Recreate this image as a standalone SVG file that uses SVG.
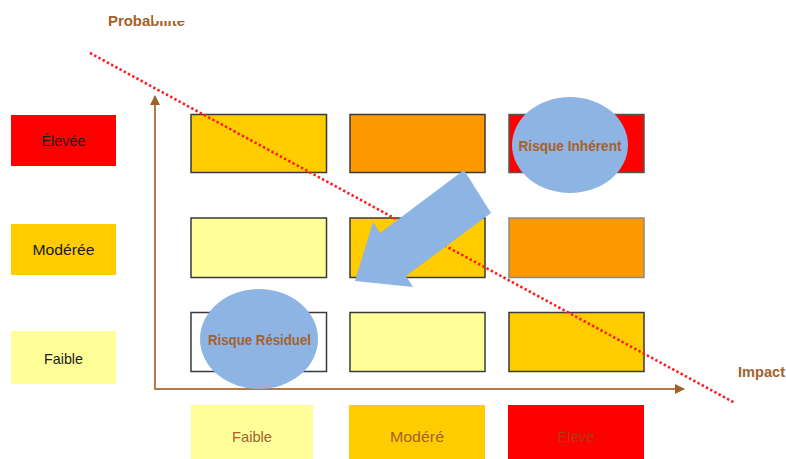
<svg xmlns="http://www.w3.org/2000/svg" width="786" height="459" viewBox="0 0 786 459">
  <style>
    .legend { stroke: none; }
    .cell { stroke: #3a3a3a; stroke-width: 1.5; }
    .bubble { fill: #8EB4E3; }
    .lbl { font-family: "Liberation Sans", Arial, sans-serif; font-size: 15px; text-anchor: middle; dominant-baseline: central; }
    .dark { fill: #1a1a1a; }
    .brown { fill: #A5612B; }
    .bold { font-weight: bold; font-size: 14px; }
    .axis { stroke: #B27A4B; stroke-width: 2; fill: none; }
    .red-line { stroke: #FF1A1A; stroke-width: 2.6; stroke-dasharray: 2.4 2.4; fill: none; }
  </style>
  <defs>
    <marker id="axisHead" viewBox="0 0 10 10" refX="9" refY="5" markerWidth="5" markerHeight="5" orient="auto" markerUnits="strokeWidth">
      <path d="M0,0 L10,5 L0,10 Z" fill="#A0622D"/>
    </marker>
    <clipPath id="titleClip">
      <rect x="100" y="8" width="53" height="25"/>
      <rect x="153" y="21" width="40" height="12"/>
    </clipPath>
  </defs>

  <rect width="786" height="459" fill="#ffffff"/>

  <!-- probability scale on the left -->
  <g id="prob-high">
    <rect class="legend" x="11" y="115" width="105" height="51" fill="#FF0000"/>
    <text class="lbl dark" x="63.5" y="140" textLength="44" lengthAdjust="spacingAndGlyphs">Élevée</text>
  </g>
  <g id="prob-medium">
    <rect class="legend" x="11" y="224" width="105" height="51" fill="#FFCC00"/>
    <text class="lbl dark" x="63.5" y="249" textLength="62" lengthAdjust="spacingAndGlyphs">Modérée</text>
  </g>
  <g id="prob-low">
    <rect class="legend" x="11" y="331" width="105" height="53" fill="#FFFF99"/>
    <text class="lbl dark" x="63.5" y="358" textLength="39" lengthAdjust="spacingAndGlyphs">Faible</text>
  </g>

  <!-- impact scale at the bottom -->
  <g id="impact-low">
    <rect class="legend" x="191" y="405" width="122" height="54" fill="#FFFF99"/>
    <text class="lbl brown" x="252" y="436" textLength="40" lengthAdjust="spacingAndGlyphs">Faible</text>
  </g>
  <g id="impact-medium">
    <rect class="legend" x="349" y="405" width="136" height="54" fill="#FFCC00"/>
    <text class="lbl brown" x="417" y="436" textLength="54" lengthAdjust="spacingAndGlyphs">Modéré</text>
  </g>
  <g id="impact-high">
    <rect class="legend" x="508" y="405" width="136" height="54" fill="#FF0000"/>
    <text class="lbl" x="576" y="436" fill="#B03A12" textLength="37" lengthAdjust="spacingAndGlyphs">Élevé</text>
  </g>

  <!-- risk matrix cells -->
  <g id="cell-r1c1"><rect class="cell" x="191" y="114.5" width="135.5" height="58" fill="#FFCC00"/></g>
  <g id="cell-r1c2"><rect class="cell" x="350" y="114.5" width="135" height="58" fill="#FF9900"/></g>
  <g id="cell-r1c3"><rect class="cell" x="509" y="114.5" width="135" height="58" fill="#FF0000" style="stroke:#555"/></g>
  <g id="cell-r2c1"><rect class="cell" x="191" y="218" width="135.5" height="59.5" fill="#FFFF99"/></g>
  <g id="cell-r2c2"><rect class="cell" x="350" y="218" width="135" height="59.5" fill="#FFCC00"/></g>
  <g id="cell-r2c3"><rect class="cell" x="509" y="218" width="135" height="59.5" fill="#FF9900" style="stroke:#8a8a8a"/></g>
  <g id="cell-r3c1"><rect class="cell" x="191" y="312.5" width="135.5" height="59" fill="#FFFFFF"/></g>
  <g id="cell-r3c2"><rect class="cell" x="350" y="312.5" width="135" height="59" fill="#FFFF99"/></g>
  <g id="cell-r3c3"><rect class="cell" x="509" y="312.5" width="135" height="59" fill="#FFCC00"/></g>

  <!-- axis titles -->
  <g id="title-probability">
    <text class="lbl brown" x="146.5" y="21" style="font-weight:bold;font-size:14px" textLength="77" lengthAdjust="spacingAndGlyphs" clip-path="url(#titleClip)">Probabilité</text>
  </g>
  <g id="title-impact">
    <text class="lbl brown bold" x="761.5" y="372" textLength="47" lengthAdjust="spacingAndGlyphs">Impact</text>
  </g>

  <g id="connectors">
    <!-- axes -->
    <path class="axis" d="M155,390 L155,96" marker-end="url(#axisHead)"/>
    <path class="axis" d="M154,389 L684,389" marker-end="url(#axisHead)"/>
    <!-- risk tolerance threshold -->
    <path class="red-line" d="M90,53 L735,403"/>
    <!-- mitigation arrow from inherent to residual risk -->
    <polygon class="bubble" points="464,170 491,213 406,276 413,287 355,281 373,222 380,233"/>
  </g>

  <!-- risk bubbles -->
  <g id="risk-inherent">
    <ellipse class="bubble" cx="570" cy="145" rx="58" ry="48"/>
    <text class="lbl brown bold" x="570" y="146" textLength="103" lengthAdjust="spacingAndGlyphs">Risque Inhérent</text>
  </g>
  <g id="risk-residual">
    <ellipse class="bubble" cx="259" cy="339" rx="59" ry="50"/>
    <text class="lbl brown bold" x="259.5" y="340" textLength="103" lengthAdjust="spacingAndGlyphs">Risque Résiduel</text>
  </g>
</svg>
